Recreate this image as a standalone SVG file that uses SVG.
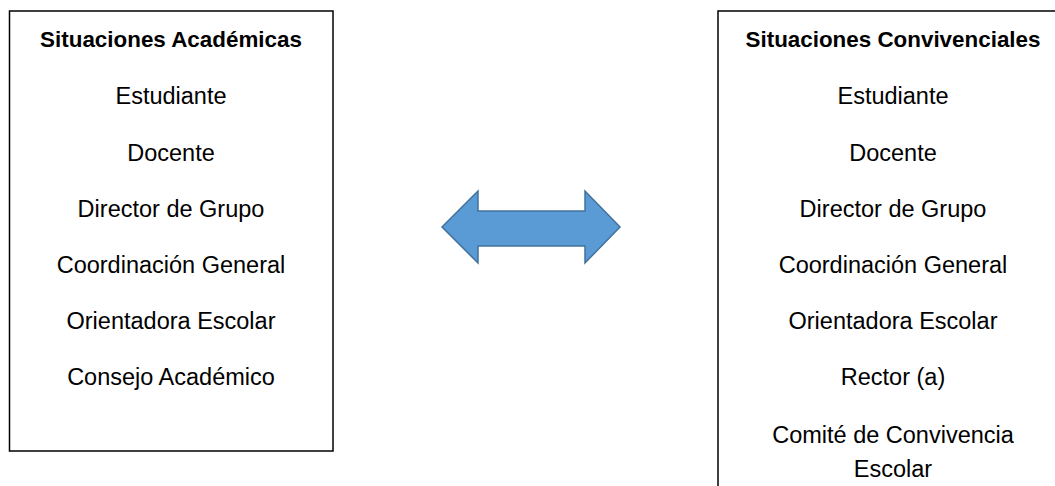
<svg xmlns="http://www.w3.org/2000/svg" width="1055" height="486" viewBox="0 0 1055 486">
<style>
.box{fill:#fff;stroke:#000;stroke-width:1.5}
.t{font-family:"Liberation Sans",Arial,sans-serif;font-size:23.5px;fill:#000;text-anchor:middle}
.h{font-weight:bold;font-size:22.4px}
.arrow{fill:#5B9BD5;stroke:#41719C;stroke-width:1.5;stroke-linejoin:miter}
</style>
<rect width="1055" height="486" fill="#fff"/>
<g id="academicas">
<rect class="box" x="9.5" y="11" width="323.5" height="440"/>
<text class="t h" x="171" y="47">Situaciones Académicas</text>
<text class="t" x="171" y="104">Estudiante</text>
<text class="t" x="171" y="160.5">Docente</text>
<text class="t" x="171" y="216.5">Director de Grupo</text>
<text class="t" x="171" y="272.5">Coordinación General</text>
<text class="t" x="171" y="328.5">Orientadora Escolar</text>
<text class="t" x="171" y="385">Consejo Académico</text>
</g>
<g id="convivenciales">
<rect class="box" x="718" y="11" width="360" height="500"/>
<text class="t h" x="893" y="47">Situaciones Convivenciales</text>
<text class="t" x="893" y="104">Estudiante</text>
<text class="t" x="893" y="160.5">Docente</text>
<text class="t" x="893" y="216.5">Director de Grupo</text>
<text class="t" x="893" y="272.5">Coordinación General</text>
<text class="t" x="893" y="328.5">Orientadora Escolar</text>
<text class="t" x="893" y="385">Rector (a)</text>
<text class="t" x="893" y="443">Comité de Convivencia</text>
<text class="t" x="893" y="477">Escolar</text>
</g>
<g id="connectors">
<path class="arrow" d="M442,227 L478,191 L478,211 L585,211 L585,191 L620,227 L585,263 L585,246 L478,246 L478,263 Z"/>
</g>
</svg>
